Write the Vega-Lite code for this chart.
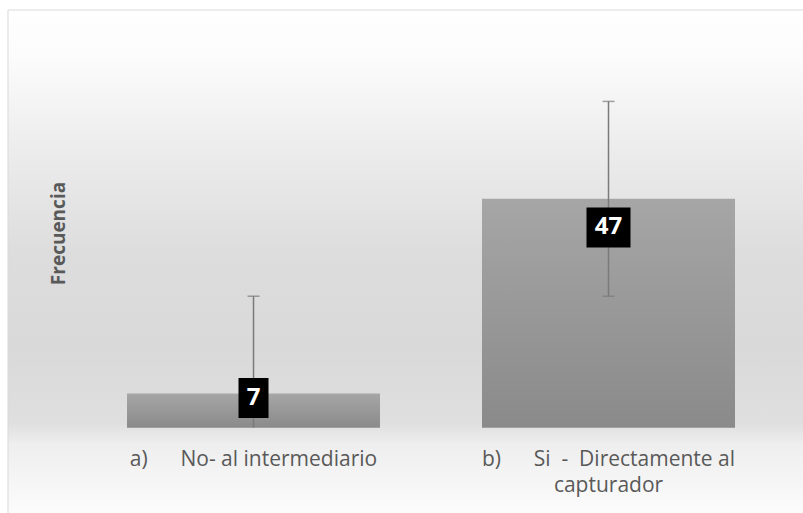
{
  "$schema": "https://vega.github.io/schema/vega-lite/v6.json",
  "width": 796,
  "height": 504,
  "autosize": {"type": "none"},
  "padding": {"left": 8, "top": 10, "right": 0, "bottom": 0},
  "background": "white",
  "config": {
    "view": {"stroke": null},
    "font": "Open Sans"
  },
  "datasets": {
    "frecuencia": [
      {"categoria": "a)\u00a0\u00a0\u00a0\u00a0\u00a0\u00a0No- al intermediario", "frecuencia": 7, "error_inferior": 0, "error_superior": 27},
      {"categoria": "b)\u00a0\u00a0\u00a0\u00a0\u00a0\u00a0Si\u00a0\u00a0-\u00a0\u00a0Directamente al|capturador", "frecuencia": 47, "error_inferior": 27, "error_superior": 67}
    ]
  },
  "layer": [
    {
      "data": {"values": [{}]},
      "mark": {
        "type": "rect",
        "stroke": "#d9d9d9",
        "strokeWidth": 1,
        "color": {
          "gradient": "linear", "x1": 0, "y1": 0, "x2": 0, "y2": 1,
          "stops": [
            {"offset": 0, "color": "#ffffff"},
            {"offset": 0.1, "color": "#fbfbfb"},
            {"offset": 0.28, "color": "#ececec"},
            {"offset": 0.48, "color": "#dddddd"},
            {"offset": 0.67, "color": "#d9d9d9"},
            {"offset": 0.82, "color": "#dfdfdf"},
            {"offset": 0.86, "color": "#eeeeee"},
            {"offset": 1, "color": "#fcfcfc"}
          ]
        }
      },
      "encoding": {}
    },
    {
      "data": {"name": "frecuencia"},
      "encoding": {
        "x": {
          "field": "categoria", "type": "nominal", "sort": null,
          "scale": {"paddingInner": 0.2873, "paddingOuter": 0.2648, "align": 0.633},
          "axis": {
            "title": null, "orient": "bottom", "offset": -86, "zindex": 1,
            "domain": false, "ticks": false, "tickSize": 0, "grid": false,
            "labelAngle": 0, "labelPadding": 20, "labelBaseline": "top",
            "labelFont": "Open Sans", "labelFontSize": 21, "labelColor": "#595959",
            "labelLineHeight": 26.6, "labelLimit": 0,
            "labelExpr": "split(datum.label, '|')"
          }
        }
      },
      "layer": [
        {
          "mark": {
            "type": "bar",
            "color": {
              "gradient": "linear", "x1": 0, "y1": 0, "x2": 0, "y2": 1,
              "stops": [
                {"offset": 0, "color": "#a6a6a6"},
                {"offset": 1, "color": "#8a8a8a"}
              ]
            }
          },
          "encoding": {
            "y": {
              "field": "frecuencia", "type": "quantitative", "title": "Frecuencia",
              "scale": {"domain": [-17.72, 85.77], "nice": false, "zero": false},
              "axis": {
                "zindex": 1,
                "domain": false, "ticks": false, "labels": false, "grid": false,
                "titleFont": "Open Sans", "titleFontSize": 19, "titleFontWeight": "bold",
                "titleColor": "#595959", "titleAngle": -90,
                "titleX": 50, "titleY": 223, "titleAlign": "center", "titleBaseline": "middle"
              }
            }
          }
        },
        {
          "mark": {"type": "rule", "color": "#7a7a7a", "strokeWidth": 1.5},
          "encoding": {
            "y": {"field": "error_inferior", "type": "quantitative", "title": "Frecuencia",
                  "scale": {"domain": [-17.72, 85.77], "nice": false, "zero": false}},
            "y2": {"field": "error_superior"}
          }
        },
        {
          "mark": {"type": "tick", "color": "#7a7a7a", "size": 12, "thickness": 1.5, "orient": "horizontal"},
          "encoding": {
            "y": {"field": "error_superior", "type": "quantitative", "title": "Frecuencia",
                  "scale": {"domain": [-17.72, 85.77], "nice": false, "zero": false}}
          }
        },
        {
          "transform": [{"filter": "datum.error_inferior > 0"}],
          "mark": {"type": "tick", "color": "#7a7a7a", "size": 12, "thickness": 1.5, "orient": "horizontal"},
          "encoding": {
            "y": {"field": "error_inferior", "type": "quantitative", "title": "Frecuencia",
                  "scale": {"domain": [-17.72, 85.77], "nice": false, "zero": false}}
          }
        }
      ]
    },
    {
      "data": {"name": "frecuencia"},
      "encoding": {
        "x": {"field": "categoria", "type": "nominal", "sort": null},
        "y": {"field": "frecuencia", "type": "quantitative",
              "scale": {"domain": [-20.25, 98.02], "nice": false, "zero": false},
              "axis": null}
      },
      "layer": [
        {
          "mark": {"type": "point", "filled": true, "opacity": 1, "color": "black", "size": 1600, "strokeWidth": 0},
          "encoding": {
            "shape": {
              "field": "frecuencia", "type": "nominal",
              "scale": {"domain": [7, 47], "range": ["M-0.75,-1L0.75,-1L0.75,1L-0.75,1Z", "M-1.1,-1L1.1,-1L1.1,1L-1.1,1Z"]},
              "legend": null
            }
          }
        },
        {
          "mark": {"type": "text", "color": "white", "font": "Open Sans", "fontSize": 24, "fontWeight": "bold", "align": "center", "baseline": "middle"},
          "encoding": {"text": {"field": "frecuencia", "type": "quantitative"}}
        }
      ]
    }
  ],
  "resolve": {"scale": {"y": "independent"}}
}
